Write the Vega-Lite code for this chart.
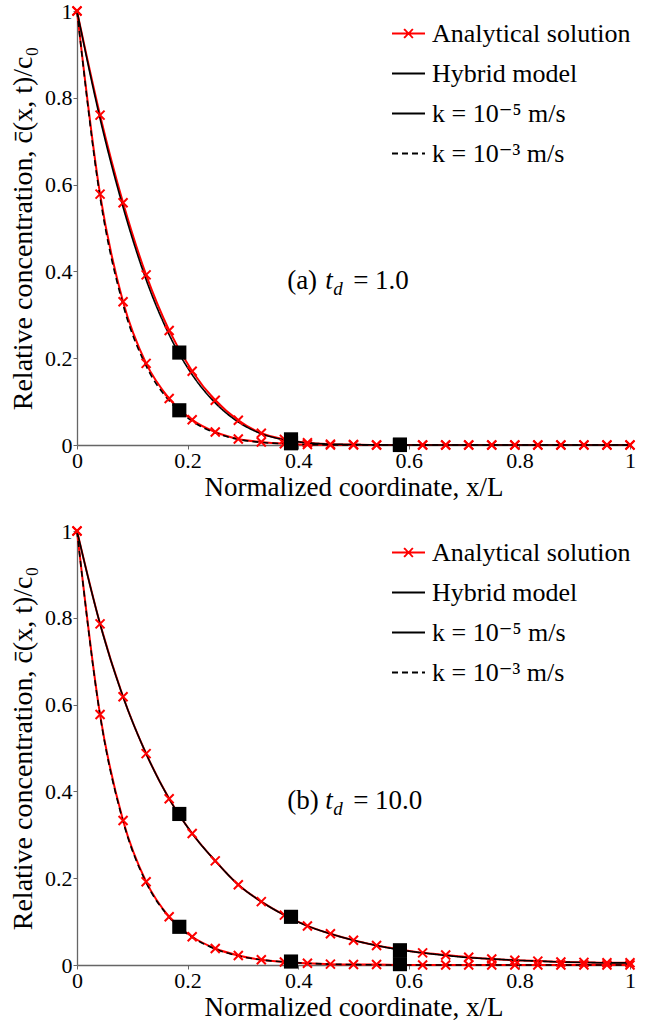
{
  "$schema": "https://vega.github.io/schema/vega-lite/v6.json",
  "background": "white",
  "padding": {"left": 9, "top": 0, "right": 0, "bottom": 0},
  "spacing": 20,
  "config": {
    "font": "Liberation Serif, DejaVu Serif, serif",
    "view": {"stroke": null},
    "legend": {"title": null, "labelLimit": 0},
    "axis": {
      "grid": false,
      "domainColor": "#666666",
      "domainWidth": 1.3,
      "tickColor": "#666666",
      "tickSize": 4,
      "labelFont": "Liberation Serif, DejaVu Serif, serif",
      "labelFontSize": 22,
      "labelColor": "black",
      "labelFlush": false,
      "labelOverlap": false,
      "format": "~g",
      "titleFont": "Liberation Serif, DejaVu Serif, serif",
      "titleFontWeight": "normal",
      "titleColor": "black"
    }
  },
  "resolve": {"scale": {"color": "independent", "strokeDash": "independent"}, "legend": {"color": "independent"}},
  "datasets": {
    "analytical": [
      {"panel": "a", "k": "k = 10⁻⁵ m/s", "x": 0, "c": 1},
      {"panel": "a", "k": "k = 10⁻⁵ m/s", "x": 0.0417, "c": 0.76},
      {"panel": "a", "k": "k = 10⁻⁵ m/s", "x": 0.0833, "c": 0.558},
      {"panel": "a", "k": "k = 10⁻⁵ m/s", "x": 0.125, "c": 0.392},
      {"panel": "a", "k": "k = 10⁻⁵ m/s", "x": 0.1667, "c": 0.264},
      {"panel": "a", "k": "k = 10⁻⁵ m/s", "x": 0.2083, "c": 0.17},
      {"panel": "a", "k": "k = 10⁻⁵ m/s", "x": 0.25, "c": 0.103},
      {"panel": "a", "k": "k = 10⁻⁵ m/s", "x": 0.2917, "c": 0.057},
      {"panel": "a", "k": "k = 10⁻⁵ m/s", "x": 0.3333, "c": 0.027},
      {"panel": "a", "k": "k = 10⁻⁵ m/s", "x": 0.375, "c": 0.013},
      {"panel": "a", "k": "k = 10⁻⁵ m/s", "x": 0.4167, "c": 0.005},
      {"panel": "a", "k": "k = 10⁻⁵ m/s", "x": 0.4583, "c": 0.002},
      {"panel": "a", "k": "k = 10⁻⁵ m/s", "x": 0.5, "c": 0.001},
      {"panel": "a", "k": "k = 10⁻⁵ m/s", "x": 0.5417, "c": 0},
      {"panel": "a", "k": "k = 10⁻⁵ m/s", "x": 0.5833, "c": 0},
      {"panel": "a", "k": "k = 10⁻⁵ m/s", "x": 0.625, "c": 0},
      {"panel": "a", "k": "k = 10⁻⁵ m/s", "x": 0.6667, "c": 0},
      {"panel": "a", "k": "k = 10⁻⁵ m/s", "x": 0.7083, "c": 0},
      {"panel": "a", "k": "k = 10⁻⁵ m/s", "x": 0.75, "c": 0},
      {"panel": "a", "k": "k = 10⁻⁵ m/s", "x": 0.7917, "c": 0},
      {"panel": "a", "k": "k = 10⁻⁵ m/s", "x": 0.8333, "c": 0},
      {"panel": "a", "k": "k = 10⁻⁵ m/s", "x": 0.875, "c": 0},
      {"panel": "a", "k": "k = 10⁻⁵ m/s", "x": 0.9167, "c": 0},
      {"panel": "a", "k": "k = 10⁻⁵ m/s", "x": 0.9583, "c": 0},
      {"panel": "a", "k": "k = 10⁻⁵ m/s", "x": 1, "c": 0},
      {"panel": "a", "k": "k = 10⁻³ m/s", "x": 0, "c": 1},
      {"panel": "a", "k": "k = 10⁻³ m/s", "x": 0.0417, "c": 0.578},
      {"panel": "a", "k": "k = 10⁻³ m/s", "x": 0.0833, "c": 0.33},
      {"panel": "a", "k": "k = 10⁻³ m/s", "x": 0.125, "c": 0.188},
      {"panel": "a", "k": "k = 10⁻³ m/s", "x": 0.1667, "c": 0.107},
      {"panel": "a", "k": "k = 10⁻³ m/s", "x": 0.2083, "c": 0.058},
      {"panel": "a", "k": "k = 10⁻³ m/s", "x": 0.25, "c": 0.03},
      {"panel": "a", "k": "k = 10⁻³ m/s", "x": 0.2917, "c": 0.014},
      {"panel": "a", "k": "k = 10⁻³ m/s", "x": 0.3333, "c": 0.007},
      {"panel": "a", "k": "k = 10⁻³ m/s", "x": 0.375, "c": 0.003},
      {"panel": "a", "k": "k = 10⁻³ m/s", "x": 0.4167, "c": 0.001},
      {"panel": "a", "k": "k = 10⁻³ m/s", "x": 0.4583, "c": 0},
      {"panel": "a", "k": "k = 10⁻³ m/s", "x": 0.5, "c": 0},
      {"panel": "a", "k": "k = 10⁻³ m/s", "x": 0.5417, "c": 0},
      {"panel": "a", "k": "k = 10⁻³ m/s", "x": 0.5833, "c": 0},
      {"panel": "a", "k": "k = 10⁻³ m/s", "x": 0.625, "c": 0},
      {"panel": "a", "k": "k = 10⁻³ m/s", "x": 0.6667, "c": 0},
      {"panel": "a", "k": "k = 10⁻³ m/s", "x": 0.7083, "c": 0},
      {"panel": "a", "k": "k = 10⁻³ m/s", "x": 0.75, "c": 0},
      {"panel": "a", "k": "k = 10⁻³ m/s", "x": 0.7917, "c": 0},
      {"panel": "a", "k": "k = 10⁻³ m/s", "x": 0.8333, "c": 0},
      {"panel": "a", "k": "k = 10⁻³ m/s", "x": 0.875, "c": 0},
      {"panel": "a", "k": "k = 10⁻³ m/s", "x": 0.9167, "c": 0},
      {"panel": "a", "k": "k = 10⁻³ m/s", "x": 0.9583, "c": 0},
      {"panel": "a", "k": "k = 10⁻³ m/s", "x": 1, "c": 0},
      {"panel": "b", "k": "k = 10⁻⁵ m/s", "x": 0, "c": 1},
      {"panel": "b", "k": "k = 10⁻⁵ m/s", "x": 0.0417, "c": 0.786},
      {"panel": "b", "k": "k = 10⁻⁵ m/s", "x": 0.0833, "c": 0.618},
      {"panel": "b", "k": "k = 10⁻⁵ m/s", "x": 0.125, "c": 0.487},
      {"panel": "b", "k": "k = 10⁻⁵ m/s", "x": 0.1667, "c": 0.383},
      {"panel": "b", "k": "k = 10⁻⁵ m/s", "x": 0.2083, "c": 0.303},
      {"panel": "b", "k": "k = 10⁻⁵ m/s", "x": 0.25, "c": 0.24},
      {"panel": "b", "k": "k = 10⁻⁵ m/s", "x": 0.2917, "c": 0.185},
      {"panel": "b", "k": "k = 10⁻⁵ m/s", "x": 0.3333, "c": 0.146},
      {"panel": "b", "k": "k = 10⁻⁵ m/s", "x": 0.375, "c": 0.115},
      {"panel": "b", "k": "k = 10⁻⁵ m/s", "x": 0.4167, "c": 0.09},
      {"panel": "b", "k": "k = 10⁻⁵ m/s", "x": 0.4583, "c": 0.072},
      {"panel": "b", "k": "k = 10⁻⁵ m/s", "x": 0.5, "c": 0.057},
      {"panel": "b", "k": "k = 10⁻⁵ m/s", "x": 0.5417, "c": 0.045},
      {"panel": "b", "k": "k = 10⁻⁵ m/s", "x": 0.5833, "c": 0.036},
      {"panel": "b", "k": "k = 10⁻⁵ m/s", "x": 0.625, "c": 0.028},
      {"panel": "b", "k": "k = 10⁻⁵ m/s", "x": 0.6667, "c": 0.023},
      {"panel": "b", "k": "k = 10⁻⁵ m/s", "x": 0.7083, "c": 0.018},
      {"panel": "b", "k": "k = 10⁻⁵ m/s", "x": 0.75, "c": 0.014},
      {"panel": "b", "k": "k = 10⁻⁵ m/s", "x": 0.7917, "c": 0.011},
      {"panel": "b", "k": "k = 10⁻⁵ m/s", "x": 0.8333, "c": 0.009},
      {"panel": "b", "k": "k = 10⁻⁵ m/s", "x": 0.875, "c": 0.007},
      {"panel": "b", "k": "k = 10⁻⁵ m/s", "x": 0.9167, "c": 0.006},
      {"panel": "b", "k": "k = 10⁻⁵ m/s", "x": 0.9583, "c": 0.005},
      {"panel": "b", "k": "k = 10⁻⁵ m/s", "x": 1, "c": 0.005},
      {"panel": "b", "k": "k = 10⁻³ m/s", "x": 0, "c": 1},
      {"panel": "b", "k": "k = 10⁻³ m/s", "x": 0.0417, "c": 0.577},
      {"panel": "b", "k": "k = 10⁻³ m/s", "x": 0.0833, "c": 0.333},
      {"panel": "b", "k": "k = 10⁻³ m/s", "x": 0.125, "c": 0.192},
      {"panel": "b", "k": "k = 10⁻³ m/s", "x": 0.1667, "c": 0.111},
      {"panel": "b", "k": "k = 10⁻³ m/s", "x": 0.2083, "c": 0.065},
      {"panel": "b", "k": "k = 10⁻³ m/s", "x": 0.25, "c": 0.038},
      {"panel": "b", "k": "k = 10⁻³ m/s", "x": 0.2917, "c": 0.022},
      {"panel": "b", "k": "k = 10⁻³ m/s", "x": 0.3333, "c": 0.012},
      {"panel": "b", "k": "k = 10⁻³ m/s", "x": 0.375, "c": 0.007},
      {"panel": "b", "k": "k = 10⁻³ m/s", "x": 0.4167, "c": 0.004},
      {"panel": "b", "k": "k = 10⁻³ m/s", "x": 0.4583, "c": 0.002},
      {"panel": "b", "k": "k = 10⁻³ m/s", "x": 0.5, "c": 0.001},
      {"panel": "b", "k": "k = 10⁻³ m/s", "x": 0.5417, "c": 0.001},
      {"panel": "b", "k": "k = 10⁻³ m/s", "x": 0.5833, "c": 0},
      {"panel": "b", "k": "k = 10⁻³ m/s", "x": 0.625, "c": 0},
      {"panel": "b", "k": "k = 10⁻³ m/s", "x": 0.6667, "c": 0},
      {"panel": "b", "k": "k = 10⁻³ m/s", "x": 0.7083, "c": 0},
      {"panel": "b", "k": "k = 10⁻³ m/s", "x": 0.75, "c": 0},
      {"panel": "b", "k": "k = 10⁻³ m/s", "x": 0.7917, "c": 0},
      {"panel": "b", "k": "k = 10⁻³ m/s", "x": 0.8333, "c": 0},
      {"panel": "b", "k": "k = 10⁻³ m/s", "x": 0.875, "c": 0},
      {"panel": "b", "k": "k = 10⁻³ m/s", "x": 0.9167, "c": 0},
      {"panel": "b", "k": "k = 10⁻³ m/s", "x": 0.9583, "c": 0},
      {"panel": "b", "k": "k = 10⁻³ m/s", "x": 1, "c": 0}
    ],
    "hybrid": [
      {"panel": "a", "k": "k = 10⁻⁵ m/s", "x": 0, "c": 1},
      {"panel": "a", "k": "k = 10⁻⁵ m/s", "x": 0.0417, "c": 0.752},
      {"panel": "a", "k": "k = 10⁻⁵ m/s", "x": 0.0833, "c": 0.548},
      {"panel": "a", "k": "k = 10⁻⁵ m/s", "x": 0.125, "c": 0.381},
      {"panel": "a", "k": "k = 10⁻⁵ m/s", "x": 0.1667, "c": 0.254},
      {"panel": "a", "k": "k = 10⁻⁵ m/s", "x": 0.2083, "c": 0.162},
      {"panel": "a", "k": "k = 10⁻⁵ m/s", "x": 0.25, "c": 0.097},
      {"panel": "a", "k": "k = 10⁻⁵ m/s", "x": 0.2917, "c": 0.053},
      {"panel": "a", "k": "k = 10⁻⁵ m/s", "x": 0.3333, "c": 0.026},
      {"panel": "a", "k": "k = 10⁻⁵ m/s", "x": 0.375, "c": 0.012},
      {"panel": "a", "k": "k = 10⁻⁵ m/s", "x": 0.4167, "c": 0.005},
      {"panel": "a", "k": "k = 10⁻⁵ m/s", "x": 0.4583, "c": 0.002},
      {"panel": "a", "k": "k = 10⁻⁵ m/s", "x": 0.5, "c": 0.001},
      {"panel": "a", "k": "k = 10⁻⁵ m/s", "x": 0.5833, "c": 0},
      {"panel": "a", "k": "k = 10⁻⁵ m/s", "x": 1, "c": 0},
      {"panel": "a", "k": "k = 10⁻³ m/s", "x": 0, "c": 1},
      {"panel": "a", "k": "k = 10⁻³ m/s", "x": 0.0417, "c": 0.571},
      {"panel": "a", "k": "k = 10⁻³ m/s", "x": 0.0833, "c": 0.323},
      {"panel": "a", "k": "k = 10⁻³ m/s", "x": 0.125, "c": 0.182},
      {"panel": "a", "k": "k = 10⁻³ m/s", "x": 0.1667, "c": 0.102},
      {"panel": "a", "k": "k = 10⁻³ m/s", "x": 0.2083, "c": 0.055},
      {"panel": "a", "k": "k = 10⁻³ m/s", "x": 0.25, "c": 0.028},
      {"panel": "a", "k": "k = 10⁻³ m/s", "x": 0.2917, "c": 0.013},
      {"panel": "a", "k": "k = 10⁻³ m/s", "x": 0.3333, "c": 0.006},
      {"panel": "a", "k": "k = 10⁻³ m/s", "x": 0.375, "c": 0.003},
      {"panel": "a", "k": "k = 10⁻³ m/s", "x": 0.4167, "c": 0.001},
      {"panel": "a", "k": "k = 10⁻³ m/s", "x": 0.5, "c": 0},
      {"panel": "a", "k": "k = 10⁻³ m/s", "x": 1, "c": 0},
      {"panel": "b", "k": "k = 10⁻⁵ m/s", "x": 0, "c": 1},
      {"panel": "b", "k": "k = 10⁻⁵ m/s", "x": 0.0417, "c": 0.786},
      {"panel": "b", "k": "k = 10⁻⁵ m/s", "x": 0.0833, "c": 0.618},
      {"panel": "b", "k": "k = 10⁻⁵ m/s", "x": 0.125, "c": 0.487},
      {"panel": "b", "k": "k = 10⁻⁵ m/s", "x": 0.1667, "c": 0.383},
      {"panel": "b", "k": "k = 10⁻⁵ m/s", "x": 0.2083, "c": 0.303},
      {"panel": "b", "k": "k = 10⁻⁵ m/s", "x": 0.25, "c": 0.24},
      {"panel": "b", "k": "k = 10⁻⁵ m/s", "x": 0.2917, "c": 0.185},
      {"panel": "b", "k": "k = 10⁻⁵ m/s", "x": 0.3333, "c": 0.146},
      {"panel": "b", "k": "k = 10⁻⁵ m/s", "x": 0.375, "c": 0.115},
      {"panel": "b", "k": "k = 10⁻⁵ m/s", "x": 0.4167, "c": 0.09},
      {"panel": "b", "k": "k = 10⁻⁵ m/s", "x": 0.4583, "c": 0.072},
      {"panel": "b", "k": "k = 10⁻⁵ m/s", "x": 0.5, "c": 0.057},
      {"panel": "b", "k": "k = 10⁻⁵ m/s", "x": 0.5417, "c": 0.045},
      {"panel": "b", "k": "k = 10⁻⁵ m/s", "x": 0.5833, "c": 0.035},
      {"panel": "b", "k": "k = 10⁻⁵ m/s", "x": 0.625, "c": 0.028},
      {"panel": "b", "k": "k = 10⁻⁵ m/s", "x": 0.6667, "c": 0.022},
      {"panel": "b", "k": "k = 10⁻⁵ m/s", "x": 0.7083, "c": 0.017},
      {"panel": "b", "k": "k = 10⁻⁵ m/s", "x": 0.75, "c": 0.014},
      {"panel": "b", "k": "k = 10⁻⁵ m/s", "x": 0.7917, "c": 0.011},
      {"panel": "b", "k": "k = 10⁻⁵ m/s", "x": 0.8333, "c": 0.009},
      {"panel": "b", "k": "k = 10⁻⁵ m/s", "x": 0.875, "c": 0.007},
      {"panel": "b", "k": "k = 10⁻⁵ m/s", "x": 0.9167, "c": 0.006},
      {"panel": "b", "k": "k = 10⁻⁵ m/s", "x": 0.9583, "c": 0.005},
      {"panel": "b", "k": "k = 10⁻⁵ m/s", "x": 1, "c": 0.005},
      {"panel": "b", "k": "k = 10⁻³ m/s", "x": 0, "c": 1},
      {"panel": "b", "k": "k = 10⁻³ m/s", "x": 0.0417, "c": 0.575},
      {"panel": "b", "k": "k = 10⁻³ m/s", "x": 0.0833, "c": 0.331},
      {"panel": "b", "k": "k = 10⁻³ m/s", "x": 0.125, "c": 0.19},
      {"panel": "b", "k": "k = 10⁻³ m/s", "x": 0.1667, "c": 0.11},
      {"panel": "b", "k": "k = 10⁻³ m/s", "x": 0.2083, "c": 0.064},
      {"panel": "b", "k": "k = 10⁻³ m/s", "x": 0.25, "c": 0.037},
      {"panel": "b", "k": "k = 10⁻³ m/s", "x": 0.2917, "c": 0.021},
      {"panel": "b", "k": "k = 10⁻³ m/s", "x": 0.3333, "c": 0.012},
      {"panel": "b", "k": "k = 10⁻³ m/s", "x": 0.375, "c": 0.007},
      {"panel": "b", "k": "k = 10⁻³ m/s", "x": 0.4167, "c": 0.004},
      {"panel": "b", "k": "k = 10⁻³ m/s", "x": 0.4583, "c": 0.002},
      {"panel": "b", "k": "k = 10⁻³ m/s", "x": 0.5, "c": 0.001},
      {"panel": "b", "k": "k = 10⁻³ m/s", "x": 0.5833, "c": 0},
      {"panel": "b", "k": "k = 10⁻³ m/s", "x": 1, "c": 0}
    ],
    "squares": [
      {"panel": "a", "x": 0.185, "c": 0.213},
      {"panel": "a", "x": 0.185, "c": 0.08},
      {"panel": "a", "x": 0.387, "c": 0.013},
      {"panel": "a", "x": 0.387, "c": 0.004},
      {"panel": "a", "x": 0.584, "c": 0.001},
      {"panel": "a", "x": 0.584, "c": 0},
      {"panel": "b", "x": 0.185, "c": 0.348},
      {"panel": "b", "x": 0.185, "c": 0.088},
      {"panel": "b", "x": 0.387, "c": 0.111},
      {"panel": "b", "x": 0.387, "c": 0.008},
      {"panel": "b", "x": 0.584, "c": 0.034},
      {"panel": "b", "x": 0.584, "c": 0.002}
    ],
    "notes": [
      {"panel": "a", "tag": "(a)", "value": "= 1.0"},
      {"panel": "b", "tag": "(b)", "value": "= 10.0"}
    ]
  },
  "vconcat": [
    {
      "width": 553,
      "height": 434,
      "layer": [
        {
          "data": {"name": "analytical"},
          "transform": [{"filter": "datum.panel === 'a'"}],
          "mark": {"type": "line", "strokeWidth": 2, "interpolate": "monotone", "clip": false},
          "encoding": {
            "x": {"field": "x", "type": "quantitative", "scale": {"domain": [0, 1], "nice": false},
                  "axis": {"values": [0, 0.2, 0.4, 0.6, 0.8, 1], "title": "Normalized coordinate, x/L", "titleFontSize": 27, "titlePadding": 3, "labelPadding": 1}},
            "y": {"field": "c", "type": "quantitative", "scale": {"domain": [0, 1], "nice": false},
                  "axis": {"values": [0, 0.2, 0.4, 0.6, 0.8, 1], "title": "Relative concentration, c̄(x, t)/c₀", "titleFontSize": 28, "titlePadding": 7, "labelPadding": 1}},
            "detail": {"field": "k", "type": "nominal"},
            "color": {
              "datum": "Analytical solution", "type": "nominal",
              "scale": {"domain": ["Analytical solution", "Hybrid model", "k = 10⁻⁵ m/s", "k = 10⁻³ m/s"], "range": ["#ff0000", "black", "black", "black"]},
              "legend": {
                "orient": "none", "legendX": 314, "legendY": 5, "title": null, "padding": 0,
                "labelFont": "Liberation Serif, DejaVu Serif, serif", "labelFontSize": 26, "labelColor": "black", "labelOffset": 6, "labelLimit": 0,
                "symbolSize": 1089, "symbolStrokeWidth": 1.8, "rowPadding": 9,
                "encode": {"symbols": {"update": {
                  "shape": {"signal": "datum.value === 'Analytical solution' ? 'M-1,0H1M-0.27,-0.27L0.27,0.27M-0.27,0.27L0.27,-0.27' : 'stroke'"},
                  "strokeDash": {"signal": "datum.value === 'k = 10⁻³ m/s' ? [6, 4] : [1, 0]"},
                  "fill": {"value": "transparent"}
                }}}
              }
            }
          }
        },
        {
          "data": {"name": "hybrid"},
          "transform": [{"filter": "datum.panel === 'a'"}],
          "mark": {"type": "line", "strokeWidth": 1.6, "interpolate": "monotone", "clip": false},
          "encoding": {
            "x": {"field": "x", "type": "quantitative"},
            "y": {"field": "c", "type": "quantitative"},
            "color": {"field": "k", "type": "nominal", "title": null},
            "strokeDash": {"field": "k", "type": "nominal", "scale": {"domain": ["k = 10⁻⁵ m/s", "k = 10⁻³ m/s"], "range": [[1, 0], [6, 4]]}, "legend": null}
          }
        },
        {
          "data": {"name": "analytical"},
          "transform": [{"filter": "datum.panel === 'a'"}],
          "mark": {"type": "point", "shape": "M-1,-1L1,1M-1,1L1,-1", "size": 81, "filled": false, "stroke": "#ff0000", "strokeWidth": 2, "opacity": 1, "clip": false},
          "encoding": {
            "x": {"field": "x", "type": "quantitative"},
            "y": {"field": "c", "type": "quantitative"}
          }
        },
        {
          "data": {"name": "squares"},
          "transform": [{"filter": "datum.panel === 'a'"}],
          "mark": {"type": "square", "size": 200, "color": "black", "opacity": 1, "clip": false},
          "encoding": {
            "x": {"field": "x", "type": "quantitative"},
            "y": {"field": "c", "type": "quantitative"}
          }
        },
        {
          "data": {"name": "notes"},
          "transform": [{"filter": "datum.panel === 'a'"}],
          "layer": [
            {"mark": {"type": "text", "align": "left", "baseline": "alphabetic", "fontSize": 27, "color": "black"},
             "encoding": {"text": {"field": "tag"}, "x": {"datum": 0.38, "type": "quantitative"}, "y": {"datum": 0.36, "type": "quantitative"}}},
            {"mark": {"type": "text", "text": "t", "align": "left", "baseline": "alphabetic", "fontSize": 27, "fontStyle": "italic", "color": "black", "dx": 38},
             "encoding": {"x": {"datum": 0.38, "type": "quantitative"}, "y": {"datum": 0.36, "type": "quantitative"}}},
            {"mark": {"type": "text", "text": "d", "align": "left", "baseline": "alphabetic", "fontSize": 19, "fontStyle": "italic", "color": "black", "dx": 46, "dy": 6},
             "encoding": {"x": {"datum": 0.38, "type": "quantitative"}, "y": {"datum": 0.36, "type": "quantitative"}}},
            {"mark": {"type": "text", "align": "left", "baseline": "alphabetic", "fontSize": 27, "color": "black", "dx": 66},
             "encoding": {"text": {"field": "value"}, "x": {"datum": 0.38, "type": "quantitative"}, "y": {"datum": 0.36, "type": "quantitative"}}}
          ]
        }
      ]
    },
    {
      "width": 553,
      "height": 434,
      "layer": [
        {
          "data": {"name": "analytical"},
          "transform": [{"filter": "datum.panel === 'b'"}],
          "mark": {"type": "line", "strokeWidth": 2, "interpolate": "monotone", "clip": false},
          "encoding": {
            "x": {"field": "x", "type": "quantitative", "scale": {"domain": [0, 1], "nice": false},
                  "axis": {"values": [0, 0.2, 0.4, 0.6, 0.8, 1], "title": "Normalized coordinate, x/L", "titleFontSize": 27, "titlePadding": 3, "labelPadding": 1}},
            "y": {"field": "c", "type": "quantitative", "scale": {"domain": [0, 1], "nice": false},
                  "axis": {"values": [0, 0.2, 0.4, 0.6, 0.8, 1], "title": "Relative concentration, c̄(x, t)/c₀", "titleFontSize": 28, "titlePadding": 7, "labelPadding": 1}},
            "detail": {"field": "k", "type": "nominal"},
            "color": {
              "datum": "Analytical solution", "type": "nominal",
              "scale": {"domain": ["Analytical solution", "Hybrid model", "k = 10⁻⁵ m/s", "k = 10⁻³ m/s"], "range": ["#ff0000", "black", "black", "black"]},
              "legend": {
                "orient": "none", "legendX": 314, "legendY": 4, "title": null, "padding": 0,
                "labelFont": "Liberation Serif, DejaVu Serif, serif", "labelFontSize": 26, "labelColor": "black", "labelOffset": 6, "labelLimit": 0,
                "symbolSize": 1089, "symbolStrokeWidth": 1.8, "rowPadding": 9,
                "encode": {"symbols": {"update": {
                  "shape": {"signal": "datum.value === 'Analytical solution' ? 'M-1,0H1M-0.27,-0.27L0.27,0.27M-0.27,0.27L0.27,-0.27' : 'stroke'"},
                  "strokeDash": {"signal": "datum.value === 'k = 10⁻³ m/s' ? [6, 4] : [1, 0]"},
                  "fill": {"value": "transparent"}
                }}}
              }
            }
          }
        },
        {
          "data": {"name": "hybrid"},
          "transform": [{"filter": "datum.panel === 'b'"}],
          "mark": {"type": "line", "strokeWidth": 1.6, "interpolate": "monotone", "clip": false},
          "encoding": {
            "x": {"field": "x", "type": "quantitative"},
            "y": {"field": "c", "type": "quantitative"},
            "color": {"field": "k", "type": "nominal", "title": null},
            "strokeDash": {"field": "k", "type": "nominal", "scale": {"domain": ["k = 10⁻⁵ m/s", "k = 10⁻³ m/s"], "range": [[1, 0], [6, 4]]}, "legend": null}
          }
        },
        {
          "data": {"name": "analytical"},
          "transform": [{"filter": "datum.panel === 'b'"}],
          "mark": {"type": "point", "shape": "M-1,-1L1,1M-1,1L1,-1", "size": 81, "filled": false, "stroke": "#ff0000", "strokeWidth": 2, "opacity": 1, "clip": false},
          "encoding": {
            "x": {"field": "x", "type": "quantitative"},
            "y": {"field": "c", "type": "quantitative"}
          }
        },
        {
          "data": {"name": "squares"},
          "transform": [{"filter": "datum.panel === 'b'"}],
          "mark": {"type": "square", "size": 200, "color": "black", "opacity": 1, "clip": false},
          "encoding": {
            "x": {"field": "x", "type": "quantitative"},
            "y": {"field": "c", "type": "quantitative"}
          }
        },
        {
          "data": {"name": "notes"},
          "transform": [{"filter": "datum.panel === 'b'"}],
          "layer": [
            {"mark": {"type": "text", "align": "left", "baseline": "alphabetic", "fontSize": 27, "color": "black"},
             "encoding": {"text": {"field": "tag"}, "x": {"datum": 0.38, "type": "quantitative"}, "y": {"datum": 0.36, "type": "quantitative"}}},
            {"mark": {"type": "text", "text": "t", "align": "left", "baseline": "alphabetic", "fontSize": 27, "fontStyle": "italic", "color": "black", "dx": 38},
             "encoding": {"x": {"datum": 0.38, "type": "quantitative"}, "y": {"datum": 0.36, "type": "quantitative"}}},
            {"mark": {"type": "text", "text": "d", "align": "left", "baseline": "alphabetic", "fontSize": 19, "fontStyle": "italic", "color": "black", "dx": 46, "dy": 6},
             "encoding": {"x": {"datum": 0.38, "type": "quantitative"}, "y": {"datum": 0.36, "type": "quantitative"}}},
            {"mark": {"type": "text", "align": "left", "baseline": "alphabetic", "fontSize": 27, "color": "black", "dx": 66},
             "encoding": {"text": {"field": "value"}, "x": {"datum": 0.38, "type": "quantitative"}, "y": {"datum": 0.36, "type": "quantitative"}}}
          ]
        }
      ]
    }
  ]
}
